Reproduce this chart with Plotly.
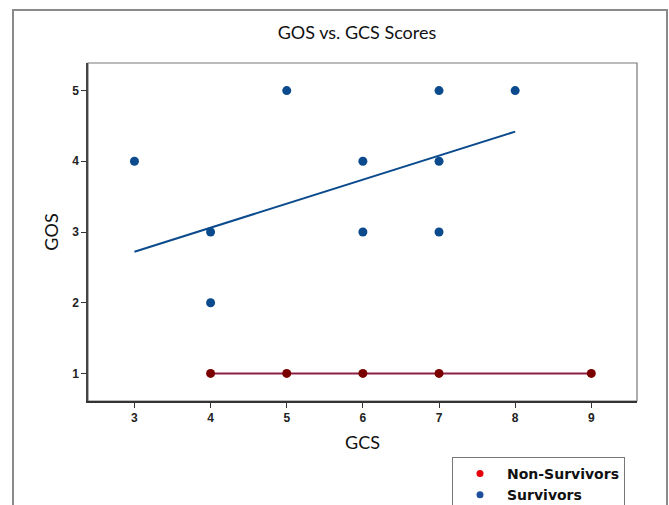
import plotly.graph_objects as go

# Survivors: GCS vs GOS
surv_gcs = [3, 4, 4, 5, 6, 6, 7, 7, 7, 8]
surv_gos = [4, 3, 2, 5, 4, 3, 5, 4, 3, 5]
# Fitted line for survivors (end points)
surv_fit_gcs = [3, 8]
surv_fit_gos = [2.72, 4.42]

# Non-survivors: GCS vs GOS
non_gcs = [4, 5, 6, 7, 9]
non_gos = [1, 1, 1, 1, 1]
non_fit_gcs = [4, 9]
non_fit_gos = [1, 1]

x_ticks = [3, 4, 5, 6, 7, 8, 9]
y_ticks = [1, 2, 3, 4, 5]

BLUE = "#0b4a8c"
DARK_RED = "#7a0000"
LINE_RED = "#8e1f45"

W, H = 669, 505
L, R, T, B = 88, 32, 63, 104
PW, PH = W - L - R, H - T - B

fig = go.Figure()

fig.add_trace(go.Scatter(x=surv_fit_gcs, y=surv_fit_gos, mode="lines",
                         line=dict(color=BLUE, width=2), showlegend=False,
                         hoverinfo="skip"))
fig.add_trace(go.Scatter(x=non_fit_gcs, y=non_fit_gos, mode="lines",
                         line=dict(color=LINE_RED, width=2), showlegend=False,
                         hoverinfo="skip"))
fig.add_trace(go.Scatter(x=surv_gcs, y=surv_gos, mode="markers",
                         marker=dict(color=BLUE, size=9), showlegend=False,
                         name="Survivors"))
fig.add_trace(go.Scatter(x=non_gcs, y=non_gos, mode="markers",
                         marker=dict(color=DARK_RED, size=9), showlegend=False,
                         name="Non-Survivors"))

# Legend entries
fig.add_trace(go.Scatter(x=[None], y=[None], mode="markers",
                         marker=dict(color="#e8000b", size=7),
                         name="<b>Non-Survivors</b>"))
fig.add_trace(go.Scatter(x=[None], y=[None], mode="markers",
                         marker=dict(color="#1f4e9a", size=7),
                         name="<b>Survivors</b>"))

axis_font = dict(family="Liberation Sans, Arial", size=12, color="#222222")
title_font = dict(family="Lato, Open Sans", size=18, color="#111111")

fig.update_layout(
    width=W, height=H,
    margin=dict(l=L, r=R, t=T, b=B, autoexpand=False),
    paper_bgcolor="white", plot_bgcolor="white",
    title=dict(text="GOS vs. GCS Scores", x=357 / W, xanchor="center",
               y=1 - 33 / H, yanchor="middle", font=title_font),
    xaxis=dict(range=[2.39, 9.6], tickvals=x_ticks,
               ticktext=[f"<b>{v}</b>" for v in x_ticks],
               showgrid=False, zeroline=False, showline=True, linecolor="#333333",
               linewidth=2, ticks="outside", ticklen=5, tickcolor="#333333",
               tickfont=axis_font,
               title=dict(text="GCS", font=title_font, standoff=12)),
    yaxis=dict(range=[0.61, 5.39], tickvals=y_ticks,
               ticktext=[f"<b>{v}</b>" for v in y_ticks],
               showgrid=False, zeroline=False, showline=True, linecolor="#444444",
               linewidth=1.5, ticks="outside", ticklen=5, tickcolor="#333333",
               tickfont=axis_font,
               title=dict(text="GOS", font=title_font, standoff=9)),
    legend=dict(x=452 / W, xref="container", xanchor="left",
                y=1 - 457 / H, yref="container", yanchor="top",
                bgcolor="white", bordercolor="#777777", borderwidth=1,
                font=dict(family="DejaVu Sans", size=14, color="#111111"),
                tracegroupgap=0, itemwidth=44),
    shapes=[
        # plot frame
        dict(type="rect", xref="paper", yref="paper", x0=0, x1=1, y0=0, y1=1,
             line=dict(color="#777777", width=1.2), layer="below"),
        # outer frame
        dict(type="rect", xref="paper", yref="paper",
             x0=(13 - L) / PW, x1=(667 - L) / PW,
             y0=(T + PH - 530) / PH, y1=(T + PH - 10) / PH,
             line=dict(color="#8a8a8a", width=2), layer="below"),
    ],
)

fig.write_html("out.html")
